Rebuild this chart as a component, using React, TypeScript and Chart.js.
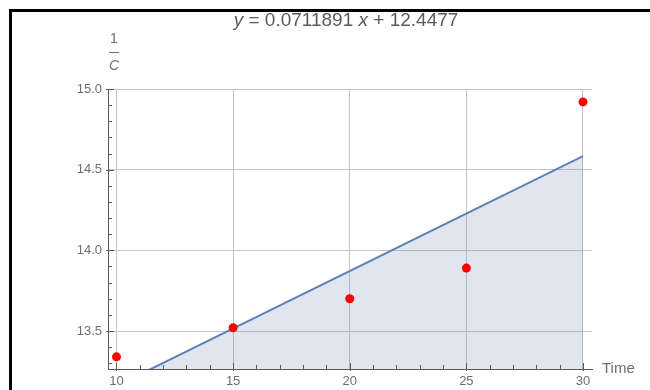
import React, { useEffect, useRef } from "react";
import { Chart, registerables } from "chart.js";

Chart.register(...registerables);

// Measured series: time vs. reciprocal concentration
const timeValues = [10, 15, 20, 25, 30];
const inverseConc = [13.34, 13.52, 13.7, 13.89, 14.92];

// Least-squares fit shown in the heading
const fitSlope = 0.0711891;
const fitIntercept = 12.4477;
const fitRange = [10, 30];

// Axis ticks
const xTicks = [10, 15, 20, 25, 30];
const yTicks = [13.5, 14.0, 14.5, 15.0];
const xRange = [9.6356, 30.386];
const yRange = [13.2645, 15.0];

const FONT = "'Liberation Sans', Arial, sans-serif";
const TEXT_COLOR = "#6e6e6e";
const AXIS_COLOR = "#5a5a5a";

const fitLine = fitRange.map((x) => ({ x, y: fitSlope * x + fitIntercept }));
const points = timeValues.map((x, i) => ({ x, y: inverseConc[i] }));

// Frame, axis tick marks and text labels
const decorPlugin = {
  id: "decor",
  beforeDraw(chart: any) {
    const ctx = chart.ctx;
    ctx.save();
    ctx.fillStyle = "#ffffff";
    ctx.fillRect(0, 0, chart.width, chart.height);
    ctx.fillStyle = "#000000";
    ctx.fillRect(9, 9, chart.width - 9, 3);
    ctx.fillRect(9, 9, 3, chart.height - 9);
    ctx.restore();
  },
  afterDraw(chart: any) {
    const ctx = chart.ctx;
    const area = chart.chartArea;
    const xs = chart.scales.x;
    const ys = chart.scales.y;
    ctx.save();
    ctx.strokeStyle = AXIS_COLOR;
    ctx.lineWidth = 1;
    ctx.beginPath();
    // y-axis ticks (minor every 0.1, major every 0.5)
    const kMin = Math.ceil(ys.min * 10 - 1e-6);
    const kMax = Math.floor(ys.max * 10 + 1e-6);
    for (let k = kMin; k <= kMax; k++) {
      const py = Math.round(ys.getPixelForValue(k / 10)) + 0.5;
      const major = k % 5 === 0;
      ctx.moveTo(area.left - (major ? 2 : 0), py);
      ctx.lineTo(area.left + (major ? 6 : 4), py);
    }
    // x-axis ticks (minor every 1, major every 5)
    for (let k = Math.ceil(xs.min); k <= Math.floor(xs.max); k++) {
      const px = Math.round(xs.getPixelForValue(k)) + 0.5;
      const major = k % 5 === 0;
      ctx.moveTo(px, area.bottom + (major ? 2 : 0));
      ctx.lineTo(px, area.bottom - (major ? 6 : 4));
    }
    ctx.stroke();

    // heading: y = a x + b
    ctx.fillStyle = "#5a5a5a";
    ctx.textBaseline = "middle";
    const parts = [
      { t: "y", it: true },
      { t: " = " + fitSlope.toString() + " ", it: false },
      { t: "x", it: true },
      { t: " + " + fitIntercept.toString(), it: false },
    ];
    const size = 19;
    let total = 0;
    for (const p of parts) {
      ctx.font = `${p.it ? "italic " : ""}${size}px ${FONT}`;
      total += ctx.measureText(p.t).width;
    }
    let cx = 346 - total / 2;
    ctx.textAlign = "left";
    for (const p of parts) {
      ctx.font = `${p.it ? "italic " : ""}${size}px ${FONT}`;
      ctx.fillText(p.t, cx, 21);
      cx += ctx.measureText(p.t).width;
    }

    // y-axis label: 1 / C
    ctx.fillStyle = TEXT_COLOR;
    ctx.textAlign = "center";
    ctx.font = `14px ${FONT}`;
    ctx.fillText("1", 114, 39);
    ctx.fillRect(109, 52, 10, 1);
    ctx.font = `italic 14px ${FONT}`;
    ctx.fillText("C", 114, 66);

    // x-axis label
    ctx.textAlign = "left";
    ctx.font = `15px ${FONT}`;
    ctx.fillText("Time", 602, area.bottom);
    ctx.restore();
  },
};

export default function App() {
  const canvasRef = useRef<HTMLCanvasElement | null>(null);

  useEffect(() => {
    const canvas = canvasRef.current;
    if (!canvas) return;
    const chart = new Chart(canvas, {
      type: "scatter",
      data: {
        datasets: [
          {
            type: "line",
            label: "fit",
            data: fitLine,
            borderColor: "#5e81b5",
            borderWidth: 2,
            backgroundColor: "rgba(94,129,181,0.2)",
            fill: "start",
            pointRadius: 0,
            tension: 0,
            order: 2,
          } as any,
          {
            label: "data",
            data: points,
            backgroundColor: "#ff0000",
            borderWidth: 0,
            pointRadius: 4.5,
            order: 1,
          },
        ],
      },
      options: {
        animation: false,
        responsive: false,
        devicePixelRatio: 1,
        layout: { padding: { left: 68, top: 89, right: 58, bottom: 0 } },
        plugins: {
          legend: { display: false },
          tooltip: { enabled: false },
          title: { display: false },
        },
        scales: {
          x: {
            type: "linear",
            min: xRange[0],
            max: xRange[1],
            afterBuildTicks: (s: any) => {
              s.ticks = xTicks.map((v) => ({ value: v }));
            },
            afterFit: (s: any) => {
              s.height = 21;
            },
            grid: { color: "#c4c4c4", drawTicks: false, lineWidth: 1 },
            border: { display: true, color: AXIS_COLOR, width: 1 },
            ticks: {
              padding: 5,
              color: TEXT_COLOR,
              font: { family: FONT, size: 13 },
              maxRotation: 0,
              autoSkip: false,
              callback: (v: any) => String(v),
            },
          },
          y: {
            type: "linear",
            min: yRange[0],
            max: yRange[1],
            afterBuildTicks: (s: any) => {
              s.ticks = yTicks.map((v) => ({ value: v }));
            },
            afterFit: (s: any) => {
              s.width = 40;
            },
            grid: { color: "#c4c4c4", drawTicks: false, lineWidth: 1 },
            border: { display: true, color: AXIS_COLOR, width: 1 },
            ticks: {
              padding: 6,
              color: TEXT_COLOR,
              font: { family: FONT, size: 13 },
              autoSkip: false,
              callback: (v: any) => Number(v).toFixed(1),
            },
          },
        },
      },
      plugins: [decorPlugin],
    });
    return () => chart.destroy();
  }, []);

  return (
    <div style={{ position: "absolute", left: 0, top: 0, width: 650, height: 390 }}>
      <canvas ref={canvasRef} width={650} height={390} style={{ display: "block" }} />
    </div>
  );
}
